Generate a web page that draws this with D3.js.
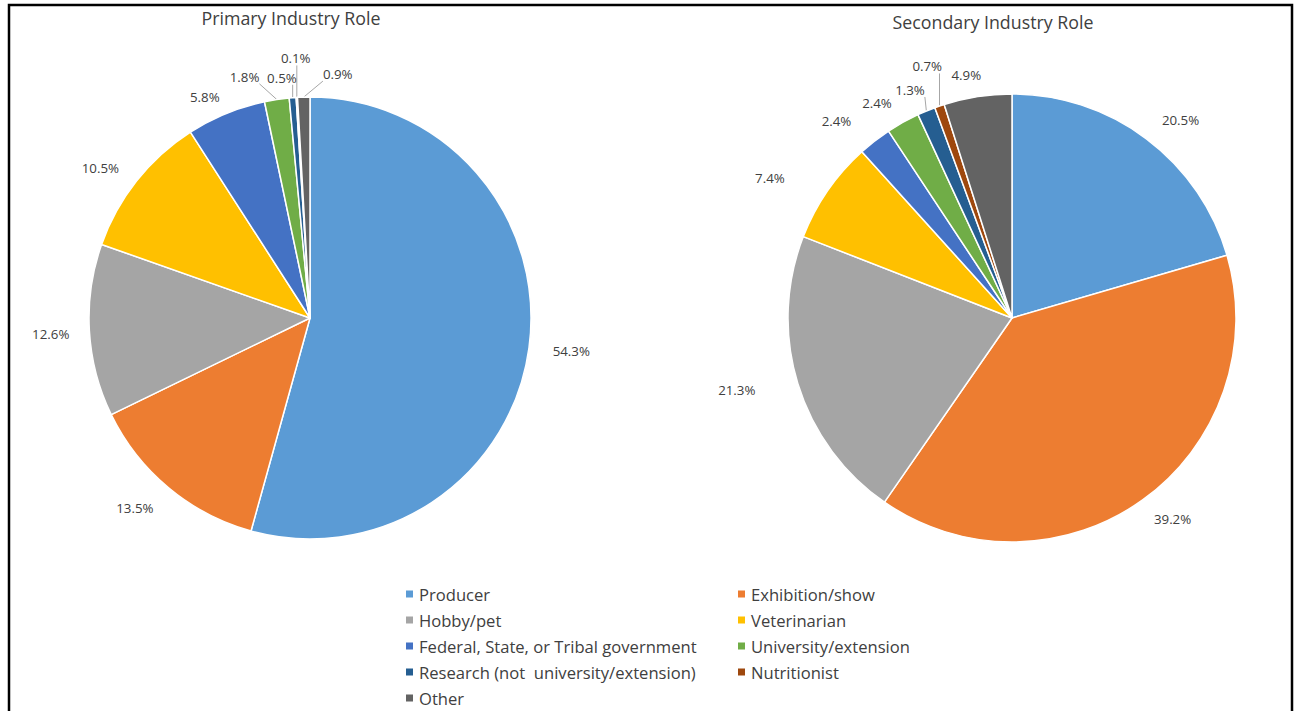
<!DOCTYPE html>
<html>
<head>
<meta charset="utf-8">
<script src="https://cdn.jsdelivr.net/npm/d3@7"></script>
<style>
  html, body { margin: 0; padding: 0; background: #fff; }
  svg { display: block; }
  text { font-family: "Open Sans", "Noto Sans", sans-serif; white-space: pre; }
</style>
</head>
<body>
<svg id="chart" width="1294" height="711"></svg>
<script>
// ---- Data ----
const categories = [
  "Producer", "Exhibition/show", "Hobby/pet", "Veterinarian",
  "Federal, State, or Tribal government", "University/extension",
  "Research (not  university/extension)", "Nutritionist", "Other"
];
const primaryValues   = [54.3, 13.5, 12.6, 10.5, 5.8, 1.8, 0.5, 0.1, 0.9];
const secondaryValues = [20.5, 39.2, 21.3, 7.4, 2.4, 2.4, 1.3, 0.7, 4.9];
const chartTitles = ["Primary Industry Role", "Secondary Industry Role"];
const colors = ["#5B9BD5", "#ED7D31", "#A5A5A5", "#FFC000", "#4472C4",
                "#70AD47", "#255E91", "#9E480E", "#636363"];

// label layout tweaks (pixel nudges for crowded labels, like Excel's manual placement)
const primaryNudge   = [[4,0],[-9,0],[0,2],[-6,3],[-8,7],[-27,3],[-8,6],[1,-13],[35,3]];
const secondaryNudge = [[11,2],[7,-2],[-24,-1],[-29,2],[-17,1],[-9,3],[-3,3],[-1,-15],[-6,4]];
const primaryLeader   = [false,false,false,false,false,true,true,true,true];
const secondaryLeader = [false,false,false,false,false,false,true,true,false];

const svg = d3.select("#chart");
const W = 1294, H = 711;

svg.append("rect").attr("width", W).attr("height", H).attr("fill", "#fff");

// outer frame (open at the bottom)
svg.append("path")
  .attr("d", `M9,${H} V5 H1292 V${H}`)
  .attr("fill", "none").attr("stroke", "#000").attr("stroke-width", 2.5);

const pie = d3.pie().sort(null).value(d => d);

function drawPie(values, title, cx, cy, r, titleX, titleY, nudge, leader) {
  const g = svg.append("g");
  g.append("text")
    .attr("x", titleX).attr("y", titleY)
    .attr("text-anchor", "middle")
    .attr("dominant-baseline", "central")
    .attr("font-size", 17.8).attr("fill", "#404040")
    .text(title);

  const arcs = pie(values);
  const arc = d3.arc().innerRadius(0).outerRadius(r);
  const pg = g.append("g").attr("transform", `translate(${cx},${cy})`);
  pg.selectAll("path").data(arcs).join("path")
    .attr("d", arc)
    .attr("fill", (d, i) => colors[i])
    .attr("stroke", "#fff").attr("stroke-width", 1.5).attr("stroke-linejoin", "round");

  const gap = 20, h = 12;
  const fmt = v => v.toFixed(1) + "%";
  arcs.forEach((d, i) => {
    const mid = (d.startAngle + d.endAngle) / 2;
    const dx = Math.sin(mid), dy = -Math.cos(mid);
    const t = g.append("text")
      .attr("text-anchor", "middle")
      .attr("dominant-baseline", "central")
      .attr("font-size", 13.3).attr("fill", "#404040")
      .text(fmt(d.data));
    const w = t.node().getComputedTextLength();
    const lx = cx + (r + gap) * dx + dx * w / 2 + nudge[i][0];
    const ly = cy + (r + gap) * dy + dy * h / 2 + nudge[i][1];
    t.attr("x", lx).attr("y", ly);
    if (leader[i]) {
      const ax = cx + r * dx, ay = cy + r * dy;
      const bx = Math.max(lx - w / 2, Math.min(lx + w / 2, ax));
      const by = Math.max(ly - h / 2, Math.min(ly + h / 2 + 1, ay));
      g.insert("line", "text")
        .attr("x1", bx).attr("y1", by).attr("x2", ax).attr("y2", ay)
        .attr("stroke", "#A6A6A6").attr("stroke-width", 1);
    }
  });
}

drawPie(primaryValues, chartTitles[0], 310, 318, 221, 291, 18, primaryNudge, primaryLeader);
drawPie(secondaryValues, chartTitles[1], 1012, 318, 224, 993, 22, secondaryNudge, secondaryLeader);

// legend
const legend = svg.append("g");
const colX = [406, 738], rowY0 = 594, rowStep = 26;
categories.forEach((c, i) => {
  const col = i % 2, row = Math.floor(i / 2);
  const y = rowY0 + row * rowStep;
  legend.append("rect")
    .attr("x", colX[col]).attr("y", y - 3.5)
    .attr("width", 7).attr("height", 7)
    .attr("fill", colors[i]);
  legend.append("text")
    .attr("x", colX[col] + 13).attr("y", y)
    .attr("dominant-baseline", "central")
    .attr("font-size", 16.6).attr("fill", "#404040")
    .text(c);
});
</script>
</body>
</html>
